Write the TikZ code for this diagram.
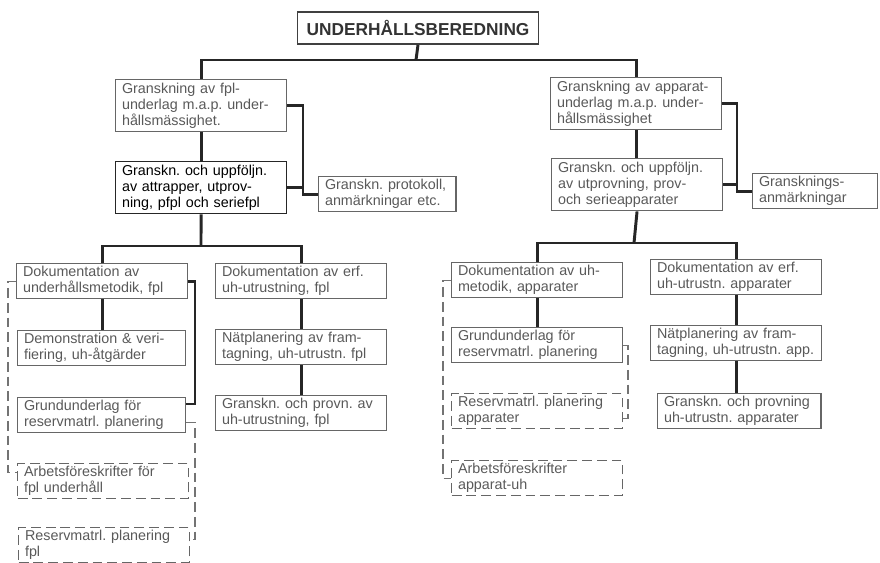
\documentclass[tikz,border=0pt]{standalone}
\usepackage{fontspec}
\setmainfont{Liberation Sans}
\usepackage{xcolor}

\begin{document}
\begin{tikzpicture}[x=0.025cm, y=-0.025cm]
        % ================= 样式定义 =================
        \tikzset{
            box/.style={draw=black!60, line width=1pt, anchor=north west, inner xsep=4.5pt, inner ysep=2pt,
                        align=left, text width=3.95cm, minimum height=0.875cm, text=black!65,
                        font=\fontsize{10.2}{11.4}\selectfont, execute at begin node=\frenchspacing},
            dbox/.style={box, dash pattern=on 7pt off 3.5pt},
            link/.style={line width=2.1pt, black!85},
            dlink/.style={line width=1pt, black!55, dash pattern=on 7pt off 3.5pt}
        }
        \useasboundingbox (0,0) rectangle (880,562);

        % ================= 顶层 =================
        \node[draw=black!75, line width=1.1pt, minimum width=6.025cm, minimum height=0.8cm,
              font=\fontsize{12.3}{13}\selectfont\bfseries, text=black!80] (title) at (418,28) {UNDERHÅLLSBEREDNING};

        % ================= 左半:fpl =================
        \node[box, minimum height=1.3cm] (l1) at (115,79) {Granskning av fpl-\\underlag m.a.p. under-\\hållsmässighet.};
        \node[box, minimum height=1.3cm, draw=black!85, text=black] (l2) at (115,161) {Granskn. och uppföljn.\\av attrapper, utprov-\\ning, pfpl och seriefpl};
        \node[box, text width=3.12cm] (l3) at (318,176) {Granskn. protokoll,\\anmärkningar etc.};

        % ================= 右半:apparater =================
        \node[box, minimum height=1.3cm] (r1) at (550,77) {Granskning av apparat-\\underlag m.a.p. under-\\hållsmässighet};
        \node[box, minimum height=1.3cm] (r2) at (551,158) {Granskn. och uppföljn.\\av utprovning, prov-\\och serieapparater};
        \node[box, text width=2.8cm] (r3) at (752,173) {Gransknings-\\anmärkningar};

        % ================= 左下 =================
        \node[box] (l4) at (16,263) {Dokumentation av\\underhållsmetodik, fpl};
        \node[box, text width=3.88cm] (l5) at (17,330) {Demonstration \& veri-\\fiering, uh-åtgärder};
        \node[box, text width=3.88cm] (l6) at (17,397) {Grundunderlag för\\reservmatrl. planering};
        \node[dbox] (l7) at (17,463) {Arbetsföreskrifter för\\fpl underhåll};
        \node[dbox] (l8) at (18,527) {Reservmatrl. planering\\fpl};

        \node[box] (l9) at (215,263) {Dokumentation av erf.\\uh-utrustning, fpl};
        \node[box] (l10) at (215,329) {Nätplanering av fram-\\tagning, uh-utrustn. fpl};
        \node[box] (l11) at (215,395) {Granskn. och provn. av\\uh-utrustning, fpl};

        % ================= 右下 =================
        \node[box] (r4) at (451,262) {Dokumentation av uh-\\metodik, apparater};
        \node[box] (r5) at (451,327) {Grundunderlag för\\reservmatrl. planering};
        \node[dbox] (r6) at (451,393) {Reservmatrl. planering\\apparater};
        \node[dbox] (r7) at (451,460) {Arbetsföreskrifter\\apparat-uh};

        \node[box] (r8) at (650,259) {Dokumentation av erf.\\uh-utrustn. apparater};
        \node[box] (r9) at (650,325) {Nätplanering av fram-\\tagning, uh-utrustn. app.};
        \node[box, text width=3.76cm] (r10) at (657,393) {Granskn. och provning\\uh-utrustn. apparater};

        % 汇流点
        \coordinate (bus0) at (416,60);
        \coordinate (busl) at (201,246);
        \coordinate (busr) at (634,243);
        \coordinate (jl) at (303,0);
        \coordinate (jr) at (737,0);
        \coordinate (kl) at (195,0);
        \coordinate (dl) at (8,0);
        \coordinate (dr) at (628,0);
        \coordinate (dr2) at (443,0);
        % 接入点(偏移)
        \coordinate (l6a) at ([yshift=8pt]l6.east);
        \coordinate (l6b) at ([yshift=-5pt]l6.east);
        \coordinate (l7a) at ([yshift=6pt]l7.west);
        \coordinate (l8a) at ([yshift=4pt]l8.east);
        \coordinate (r6a) at ([yshift=-5pt]r6.east);

        % ================= 实线连接 =================
        \draw[link] (title.south) -- (bus0);
        \draw[link] (l1.north) |- (bus0) -| (r1.north);

        \draw[link] (l1.south) -- (l1.south |- l2.north);
        \draw[link] (l1.east) -| (jl |- l3.west) -- (l3.west);
        \draw[link] (l2.east) -- (jl |- l2.east);

        \draw[link] (r1.south) -- (r1.south |- r2.north);
        \draw[link] (r1.east) -| (jr |- r3.west) -- (r3.west);
        \draw[link] (r2.east) -- (jr |- r2.east);

        \draw[link] (l2.south) -- (busl);
        \draw[link] (l4.north) |- (busl) -| (l9.north);
        \draw[link] (l4.south) -- (l4.south |- l5.north);
        \draw[link] (l4.east) -| (kl |- l6a) -- (l6a);
        \draw[link] (l9.south) -- (l9.south |- l10.north);
        \draw[link] (l10.south) -- (l10.south |- l11.north);

        \draw[link] (r2.south) -- (busr);
        \draw[link] (r4.north) |- (busr) -| (r8.north);
        \draw[link] (r4.south) -- (r4.south |- r5.north);
        \draw[link] (r8.south) -- (r8.south |- r9.north);
        \draw[link] (r9.south) -- (r9.south |- r10.north);

        % ================= 虚线连接 =================
        \draw[dlink] (l4.west) -| (dl |- l7a) -- (l7a);
        \draw[dlink] (l6b) -| (kl |- l8a) -- (l8a);
        \draw[dlink] (r4.west) -| (dr2 |- r7.west) -- (r7.west);
        \draw[dlink] (r5.east) -| (dr |- r6a) -- (r6a);

\end{tikzpicture}
\end{document}
